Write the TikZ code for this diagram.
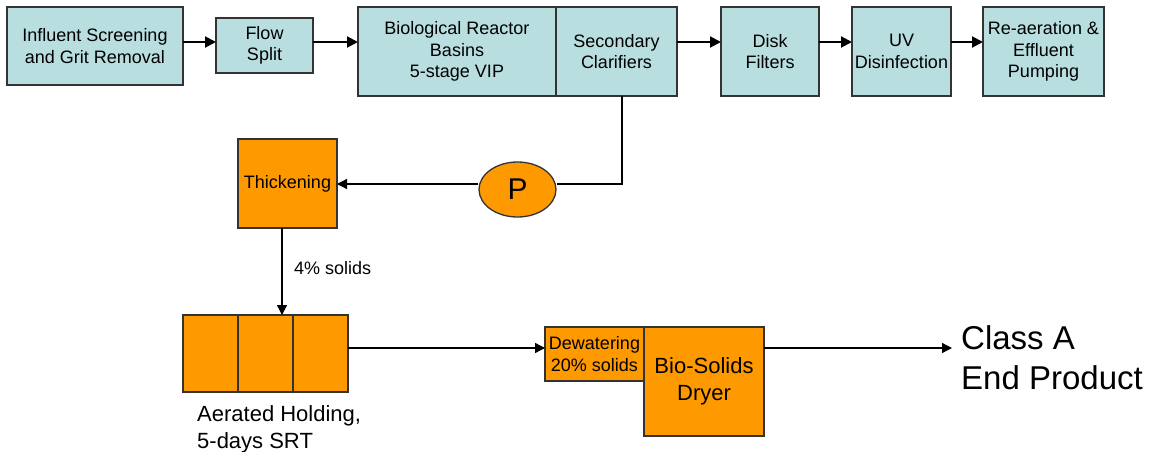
\documentclass[tikz,border=0pt]{standalone}
\usepackage{fontspec}
\setmainfont{Liberation Sans}
\usepackage{xcolor}
\usetikzlibrary{shapes,arrows.meta,positioning}

\definecolor{tankblue}{RGB}{184,222,224}
\definecolor{sludge}{RGB}{255,153,0}
\definecolor{rim}{RGB}{51,51,51}

\begin{document}
\begin{tikzpicture}[x=1pt, y=-1pt,
    block/.style={rectangle, draw=rim, line width=1.3pt, fill=tankblue, align=center, inner sep=0pt, outer sep=0pt, font=\fontsize{18}{21.5}\selectfont},
    solids/.style={block, fill=sludge},
    line/.style={draw, -{Triangle[length=10pt,width=10pt]}, line width=1.3pt},
    flow/.style={line, line width=2pt, -{Triangle[length=11pt,width=11pt]}},
    pipe/.style={draw, line width=1.3pt}]

    \useasboundingbox (0,0) rectangle (1149,452);

    % liquid train
    \node [block, minimum width=176pt, minimum height=78pt] (screen) at (95,46) {Influent Screening\\and Grit Removal};
    \node [block, minimum width=97pt, minimum height=55pt] (split) at (264.5,45.5) {Flow\\Split};
    \node [block, minimum width=198pt, minimum height=89pt] (bio) at (457,51.5) {Biological Reactor\\Basins\\5-stage VIP};
    \node [block, minimum width=121pt, minimum height=89pt, right=0pt of bio] (clar) {Secondary\\Clarifiers};
    \node [block, minimum width=98pt, minimum height=89pt] (disk) at (770,51.5) {Disk\\Filters};
    \node [block, minimum width=99pt, minimum height=89pt] (uv) at (901.5,51.5) {UV\\Disinfection};
    \node [block, minimum width=121pt, minimum height=89pt] (reair) at (1043.5,51.5) {Re-aeration \&\\Effluent\\Pumping};

    % solids train
    \node [solids, minimum width=99pt, minimum height=89pt] (thick) at (287.5,183.5) {Thickening};
    \node [ellipse, draw=rim, line width=1.3pt, fill=sludge, minimum width=77pt, minimum height=55pt, inner sep=0pt, font=\fontsize{30}{36}\selectfont] (pump) at (517.5,189.5) {P};
    \node [solids, minimum width=55pt, minimum height=77pt] (hold1) at (210.5,353.5) {};
    \node [solids, minimum width=55pt, minimum height=77pt, right=0pt of hold1] (hold2) {};
    \node [solids, minimum width=55pt, minimum height=77pt, right=0pt of hold2] (hold3) {};
    \node [solids, minimum width=99pt, minimum height=54pt] (dewater) at (594.5,354) {Dewatering\\20\% solids};
    \node [solids, minimum width=120pt, minimum height=109pt, anchor=north west, font=\fontsize{22}{26.5}\selectfont] (dryer) at (dewater.north east) {Bio-Solids\\Dryer};

    % labels
    \node [anchor=west, inner sep=0pt, font=\fontsize{18}{21.5}\selectfont] (pct) at (294,268) {4\% solids};
    \node [anchor=north west, align=left, inner sep=0pt, font=\fontsize{22}{27}\selectfont] (holdlabel) at (197,405) {Aerated Holding,\\5-days SRT};
    \node [anchor=north west, align=left, inner sep=0pt, font=\fontsize{33}{40}\selectfont] (product) at (961,325) {Class A\\End Product};

    \coordinate (row) at (0,42);
    \coordinate (tap) at (622,184);
    \coordinate (drop) at (282,0);
    \coordinate (feed) at (0,348);

    \path [flow] (screen.east |- row) -- (split.west |- row);
    \path [flow] (split.east |- row) -- (bio.west |- row);
    \path [flow] (clar.east |- row) -- (disk.west |- row);
    \path [flow] (disk.east |- row) -- (uv.west |- row);
    \path [flow] (uv.east |- row) -- (reair.west |- row);

    \path [pipe] (clar.south -| tap) -- (tap) -- (pump.east |- tap);
    \path [line] (pump.west |- tap) -- (thick.east |- tap);
    \path [line] (thick.south -| drop) -- (hold2.north -| drop);
    \path [line] (hold3.east |- feed) -- (dewater.west |- feed);
    \path [line, shorten >=9pt] (dryer.east |- feed) -- (product.west |- feed);
\end{tikzpicture}
\end{document}
